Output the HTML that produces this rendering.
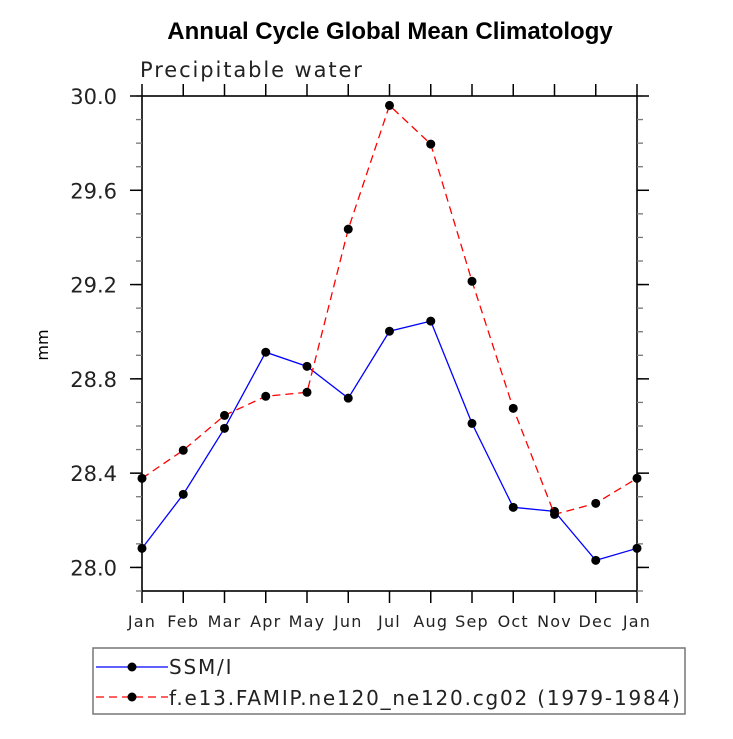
<!DOCTYPE html>
<html><head><meta charset="utf-8"><style>
body{margin:0;background:#fff;}
svg text{font-family:"DejaVu Sans","Liberation Sans",sans-serif;}
</style></head><body>
<svg width="733" height="734" xmlns="http://www.w3.org/2000/svg">
<text x="390" y="39" text-anchor="middle" font-weight="bold" font-size="24" style="font-family:'Liberation Sans',sans-serif">Annual Cycle Global Mean Climatology</text>
<text x="140" y="77" font-size="21" fill="#222" letter-spacing="1.9">Precipitable water</text>
<text x="48" y="345" font-size="16" transform="rotate(-90 48 345)" text-anchor="middle">mm</text>
<g id="axes"></g>
<g id="series"></g>
<rect x="93" y="648" width="592" height="66" fill="none" stroke="#777" stroke-width="1.5"/>
<g>
<line x1="96" y1="667" x2="168" y2="667" stroke="#0000ff" stroke-width="1.3"/>
<circle cx="132" cy="667" r="4.5"/>
<text x="169" y="674" font-size="20" fill="#222" letter-spacing="1.8">SSM/I</text></g>
<g>
<line x1="96" y1="697" x2="168" y2="697" stroke="#ff0000" stroke-width="1.3" stroke-dasharray="8,5"/>
<circle cx="132" cy="697" r="4.5"/>
<text x="169" y="705" font-size="20" fill="#222" letter-spacing="1.8">f.e13.FAMIP.ne120_ne120.cg02 (1979-1984)</text></g>
</svg>
<script>
const months=["Jan","Feb","Mar","Apr","May","Jun","Jul","Aug","Sep","Oct","Nov","Dec","Jan"];
const ssmi=[28.081,28.31,28.59,28.913,28.853,28.718,29.002,29.045,28.611,28.255,28.238,28.03,28.081];
const model=[28.378,28.497,28.645,28.726,28.743,29.435,29.96,29.796,29.214,28.675,28.225,28.272,28.378];
const yTicks=[28.0,28.4,28.8,29.2,29.6,30.0];
const ns="http://www.w3.org/2000/svg";
const L=142,R=637,T=96,B=591,ymin=27.9,ymax=30.0;
const xs=i=>L+(R-L)*i/12;
const ys=v=>B-(v-ymin)/(ymax-ymin)*(B-T);
function mk(tag,attrs,parent){const e=document.createElementNS(ns,tag);for(const k in attrs)e.setAttribute(k,attrs[k]);parent.appendChild(e);return e;}
const ax=document.getElementById('axes');
const frame=mk('rect',{x:L,y:T,width:R-L,height:B-T,fill:'none',stroke:'#000','stroke-width':1.6},ax);


for(let i=0;i<months.length;i++){
 const x=xs(i);
 mk('line',{x1:x,y1:B,x2:x,y2:B+12,stroke:'#000','stroke-width':1.5},ax);
 mk('line',{x1:x,y1:T,x2:x,y2:T-12,stroke:'#000','stroke-width':1.5},ax);
 const t=mk('text',{x:x,y:B+36,'text-anchor':'middle','font-size':16,fill:'#222','letter-spacing':1.2},ax);
 t.textContent=months[i];
 
 
}
for(let v=27.9;v<=30.001;v+=0.1){
 const y=ys(v);
 mk('line',{x1:L,y1:y,x2:L-6,y2:y,stroke:'#777','stroke-width':1.3},ax);
 mk('line',{x1:R,y1:y,x2:R+6,y2:y,stroke:'#777','stroke-width':1.3},ax);
}
for(const v of yTicks){
 const y=ys(v);
 mk('line',{x1:L,y1:y,x2:L-12,y2:y,stroke:'#000','stroke-width':1.5},ax);
 mk('line',{x1:R,y1:y,x2:R+12,y2:y,stroke:'#000','stroke-width':1.5},ax);
 const t=mk('text',{x:117,y:y+8,'text-anchor':'end','font-size':21,fill:'#222'},ax);
 t.textContent=v.toFixed(1);
 
 
}
const sg=document.getElementById('series');
function series(vals,color,dash,name){
 const g=mk('g',{},sg);
 
 
 const pts=vals.map((v,i)=>xs(i)+','+ys(v)).join(' ');
 const a={points:pts,fill:'none',stroke:color,'stroke-width':1.3};
 if(dash)a['stroke-dasharray']=dash;
 mk('polyline',a,g);
 vals.forEach((v,i)=>{const c=mk('circle',{cx:xs(i),cy:ys(v),r:4.5,fill:'#000'},g);
  
  });
}
series(ssmi,'#0000ff',null,'ssmi-series');
series(model,'#ff0000','8,5','model-series');
</script>
</body></html>
